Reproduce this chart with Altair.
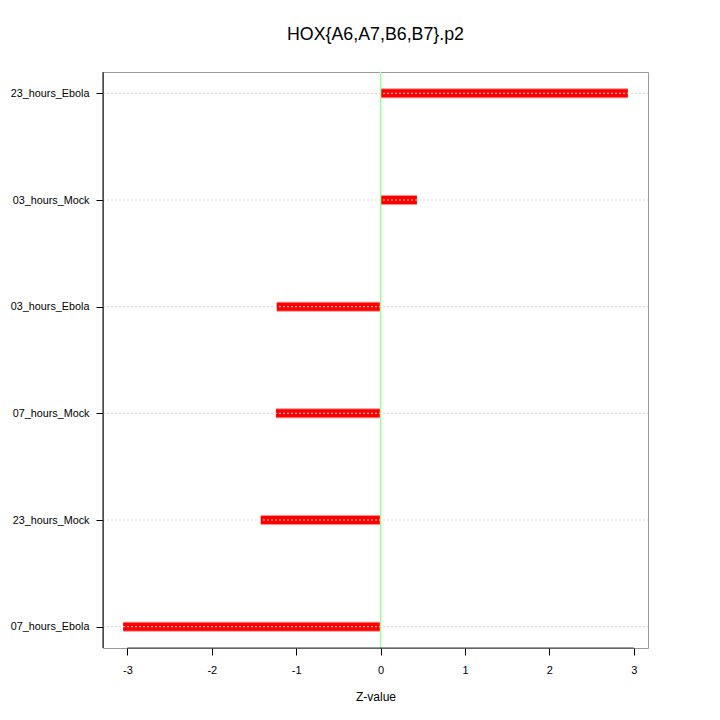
import altair as alt
import pandas as pd

categories = ["07_hours_Ebola", "23_hours_Mock", "07_hours_Mock",
              "03_hours_Ebola", "03_hours_Mock", "23_hours_Ebola"]
positions = [1, 2, 3, 4, 5, 6]
zvalues = [-3.05, -1.42, -1.24, -1.23, 0.43, 2.93]
x_ticks = [-3, -2, -1, 0, 1, 2, 3]
title_text = "HOX{A6,A7,B6,B7}.p2"

df = pd.DataFrame({"cat": categories, "pos": positions, "z": zvalues, "zero": [0] * len(zvalues)})

FONT = "Liberation Sans"
xdom = [-3.289, 3.169]
ydom = [0.8, 6.2]

label_expr = "[''," + ",".join("'" + c + "'" for c in categories) + "][datum.value]"

xscale = alt.Scale(domain=xdom, nice=False, zero=False)
yscale = alt.Scale(domain=ydom, nice=False, zero=False)

x_enc = alt.X("z:Q", scale=xscale,
              axis=alt.Axis(values=x_ticks, labelExpr="'' + datum.value", title="Z-value",
                            grid=False, domain=False,
                            tickColor="#000000", tickSize=7, labelPadding=9,
                            labelFont=FONT, labelFontSize=11, labelColor="#000000",
                            titleFont=FONT, titleFontSize=12, titleFontWeight="normal",
                            titleColor="#000000", titlePadding=16, labelFlush=False))
y_enc = alt.Y("pos:Q", scale=yscale,
              axis=alt.Axis(values=positions, labelExpr=label_expr, title=None, grid=False,
                            domain=False, tickColor="#000000", tickSize=7, labelPadding=7,
                            labelFont=FONT, labelFontSize=10.8, labelColor="#000000",
                            labelFlush=False))

base = alt.Chart(df)

bars_edge = base.mark_rule(color="#ff9090", strokeWidth=10, strokeCap="butt").encode(
    x=x_enc, x2="zero:Q", y=y_enc)
bars = base.mark_rule(color="#ff0000", strokeWidth=8, strokeCap="butt").encode(
    x="z:Q", x2="zero:Q", y="pos:Q")

grid = base.mark_rule(color="#d9d9d9", strokeWidth=1, strokeDash=[2, 2]).encode(
    x=alt.value(0), x2=alt.value(545), y="pos:Q")

zero_line = alt.Chart(pd.DataFrame({"z": [0]})).mark_rule(color="#99ff99", strokeWidth=1.5).encode(
    x="z:Q", y=alt.value(0), y2=alt.value(576))

left_line = alt.Chart(pd.DataFrame({"a": [0]})).mark_rule(color="#000000", strokeWidth=1).encode(
    x=alt.value(0), y=alt.value(0), y2=alt.value(576))

bottom_line = alt.Chart(pd.DataFrame({"x1": [x_ticks[0]], "x2": [x_ticks[-1]]})).mark_rule(
    color="#333333", strokeWidth=1).encode(
    x="x1:Q", x2="x2:Q", y=alt.value(576))

title = alt.Chart(pd.DataFrame({"t": [title_text]})).mark_text(
    font=FONT, fontSize=17.8, color="#000000", baseline="middle", align="center").encode(
    text="t:N", x=alt.value(272.5), y=alt.value(-37))

chart = alt.layer(bars_edge, bars, grid, zero_line, left_line, bottom_line, title).properties(
    width=545, height=576,
    autosize=alt.AutoSizeParams(type="none"),
    padding={"left": 95, "top": 64, "right": 64, "bottom": 64},
    background="white",
).configure_view(stroke="#999999", strokeWidth=1)

chart.save("out.html", embed_options={"renderer": "svg", "actions": False})
